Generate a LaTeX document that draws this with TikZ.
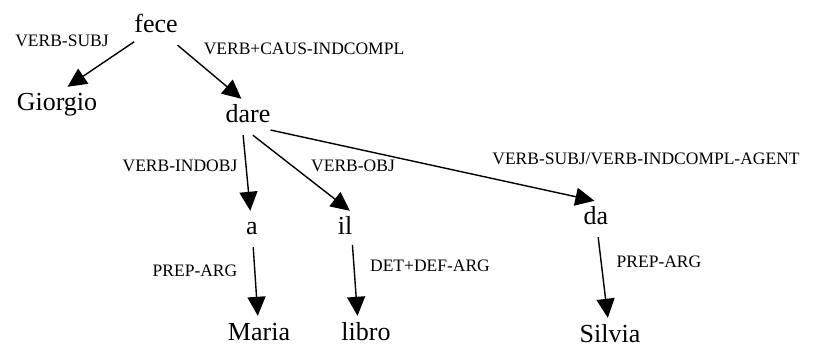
\documentclass[tikz,border=0pt]{standalone}
\usepackage{fontspec}
\setmainfont{Liberation Serif}
\usetikzlibrary{arrows.meta}
\newcommand{\wortfont}{\fontsize{26}{31}\selectfont}
\newcommand{\etikfont}{\fontsize{17.5}{21}\selectfont}

\begin{document}
\begin{tikzpicture}[x=1pt,y=-1pt,
  wort/.style={font=\wortfont,inner sep=0pt,minimum height=36pt,text height=17.5pt,text depth=5.5pt,anchor=base},
  etik/.style={font=\etikfont,inner sep=0pt,anchor=base},
  kante/.style={-{Triangle[length=19pt,width=18pt]},line width=1.4pt}]
\useasboundingbox (0,0) rectangle (813,352);
% words
\node[wort] (fece) at (156,33) {fece};
\node[wort] (giorgio) at (57,111) {Giorgio};
\node[wort] (dare) at (248,123) {dare};
\node[wort] (a) at (252,235) {a};
\node[wort] (il) at (345,235) {il};
\node[wort] (da) at (596,225) {da};
\node[wort] (maria) at (259,340) {Maria};
\node[wort] (libro) at (366,340) {libro};
\node[wort] (silvia) at (610,342) {Silvia};
% relations
\draw[kante] (fece) -- (giorgio.60);
\draw[kante] (fece) -- (dare.110);
\draw[kante] (dare.-105) -- (a);
\draw[kante] (dare.-75) -- (il.75);
\draw[kante] (dare.-30) -- (da.95);
\draw[kante] (a) -- (maria);
\draw[kante] (il.-65) -- (libro.115);
\draw[kante] (da) -- (silvia);
% labels
\node[etik] (lsubj) at (62,47) {VERB-SUBJ};
\node[etik] (lcaus) at (304,55) {VERB+CAUS-INDCOMPL};
\node[etik] (lindobj) at (180,172) {VERB-INDOBJ};
\node[etik] (lobj) at (353,172) {VERB-OBJ};
\node[etik] (lagent) at (646,165) {VERB-SUBJ/VERB-INDCOMPL-AGENT};
\node[etik] (lprepa) at (195,277) {PREP-ARG};
\node[etik] (ldet) at (430,272) {DET+DEF-ARG};
\node[etik] (lprepda) at (659,268) {PREP-ARG};
\end{tikzpicture}
\end{document}
